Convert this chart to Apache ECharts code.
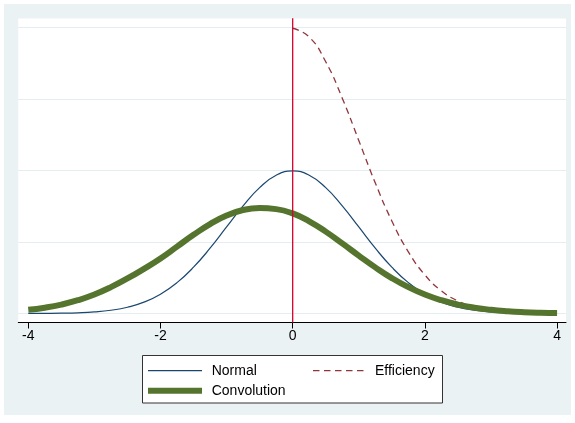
<!DOCTYPE html>
<html>
<head>
<meta charset="utf-8">
<script src="https://cdn.jsdelivr.net/npm/echarts@6/dist/echarts.min.js"></script>
<style>
html,body{margin:0;padding:0;background:#fff;}
#chart{width:575px;height:423px;}
</style>
</head>
<body>
<div id="chart"></div>
<script>
// x positions (shared by Normal and Convolution)
var xs = [-4,-3.75,-3.5,-3.25,-3,-2.75,-2.5,-2.25,-2,-1.75,-1.5,-1.25,-1,-0.75,-0.5,-0.25,0,0.25,0.5,0.75,1,1.25,1.5,1.75,2,2.25,2.5,2.75,3,3.25,3.5,3.75,4];
var normalVals = [0.0001,0.0004,0.0009,0.0020,0.0044,0.0091,0.0175,0.0317,0.0540,0.0863,0.1295,0.1826,0.2420,0.3011,0.3521,0.3867,0.3989,0.3867,0.3521,0.3011,0.2420,0.1826,0.1295,0.0863,0.0540,0.0317,0.0175,0.0091,0.0044,0.0020,0.0009,0.0004,0.0001];
var convVals = [0.0102,0.0163,0.0250,0.0371,0.0532,0.0737,0.0980,0.1250,0.1540,0.1870,0.2200,0.2500,0.2740,0.2895,0.2950,0.2920,0.2800,0.2580,0.2290,0.1960,0.1620,0.1290,0.0990,0.0737,0.0532,0.0371,0.0250,0.0163,0.0102,0.0062,0.0036,0.0020,0.0011];
// Efficiency (x >= 0)
var effXs = [0,0.25,0.5,0.75,1,1.25,1.5,1.75,2,2.25,2.5,2.75,3,3.25,3.5,3.75,4];
var effVals = [0.7979,0.7734,0.7041,0.6023,0.4839,0.3652,0.2590,0.1726,0.1080,0.0634,0.0350,0.0182,0.0089,0.0041,0.0017,0.0007,0.0003];
// vertical reference line at x = 0
var vlineX = [0, 0];
var vlineY = [-0.0252, 0.8257];
var xTicks = [-4, -2, 0, 2, 4];
var seriesNames = ['Normal', 'Efficiency', 'Convolution'];

var COLORS = {normal: '#1A476F', eff: '#90353B', conv: '#55752F', xline: '#D8002E'};
var DASH = [6.5, 4.5];

function zip(a, b) { return a.map(function (v, i) { return [v, b[i]]; }); }

var FONT = "'Liberation Sans', Arial, sans-serif";
var LFONT = "14px 'Liberation Sans', Arial, sans-serif";

function legendLine(x1, x2, y, color, width, dash) {
  return {type: 'line', z: 10, shape: {x1: x1, y1: y, x2: x2, y2: y},
    style: {stroke: color, lineWidth: width, lineDash: dash || null}};
}
function legendText(x, y, txt) {
  return {type: 'text', z: 10, x: x, y: y,
    style: {text: txt, font: LFONT, fill: '#000', verticalAlign: 'middle', align: 'left'}};
}

var chart = echarts.init(document.getElementById('chart'), null, {renderer: 'canvas'});
chart.setOption({
  backgroundColor: '#ffffff',
  animation: false,
  graphic: [
    {type: 'rect', z: -20, shape: {x: 4, y: 4, width: 567, height: 411}, style: {fill: '#EAF2F3'}},
    {type: 'rect', z: -15, shape: {x: 18.3, y: 18.5, width: 547.7, height: 304}, style: {fill: '#ffffff'}},
    {type: 'rect', z: 5, shape: {x: 142.5, y: 355.5, width: 300, height: 47.5}, style: {fill: '#ffffff', stroke: '#333333', lineWidth: 1}},
    legendLine(148, 202, 370.7, COLORS.normal, 1.2),
    legendText(211.7, 370.7, seriesNames[0]),
    legendLine(313, 366, 370.7, COLORS.eff, 1.2, DASH),
    legendText(375, 370.7, seriesNames[1]),
    legendLine(148, 202, 390.7, COLORS.conv, 6),
    legendText(211.7, 390.7, seriesNames[2])
  ],
  grid: {left: 18.3, right: 9, top: 27.5, bottom: 109.5, containLabel: false},
  xAxis: {
    type: 'value', min: -4.151, max: 4.135,
    position: 'bottom', offset: 9,
    axisLine: {onZero: false, lineStyle: {color: '#000', width: 1}},
    axisTick: {show: true, length: 6, customValues: xTicks, lineStyle: {color: '#000'}},
    axisLabel: {customValues: xTicks, color: '#000', fontSize: 14, fontFamily: FONT, margin: 6.5},
    splitLine: {show: false}
  },
  yAxis: {
    type: 'value', min: 0, max: 0.8, interval: 0.2,
    axisLine: {show: false}, axisTick: {show: false}, axisLabel: {show: false},
    splitLine: {show: true, lineStyle: {color: '#E4EDF0', width: 1}}
  },
  series: [
    {name: seriesNames[0], type: 'line', data: zip(xs, normalVals), smooth: true, symbol: 'none', clip: false,
      lineStyle: {color: COLORS.normal, width: 1.2}, itemStyle: {color: COLORS.normal}},
    {name: seriesNames[1], type: 'line', data: zip(effXs, effVals), smooth: true, symbol: 'none', clip: false,
      lineStyle: {color: COLORS.eff, width: 1.3, type: DASH}, itemStyle: {color: COLORS.eff}},
    {name: seriesNames[2], type: 'line', data: zip(xs, convVals), smooth: true, symbol: 'none', clip: false,
      lineStyle: {color: COLORS.conv, width: 6}, itemStyle: {color: COLORS.conv}},
    {name: 'xline', type: 'line', data: zip(vlineX, vlineY), symbol: 'none', clip: false, silent: true,
      lineStyle: {color: COLORS.xline, width: 1.3}}
  ]
});
</script>
</body>
</html>
